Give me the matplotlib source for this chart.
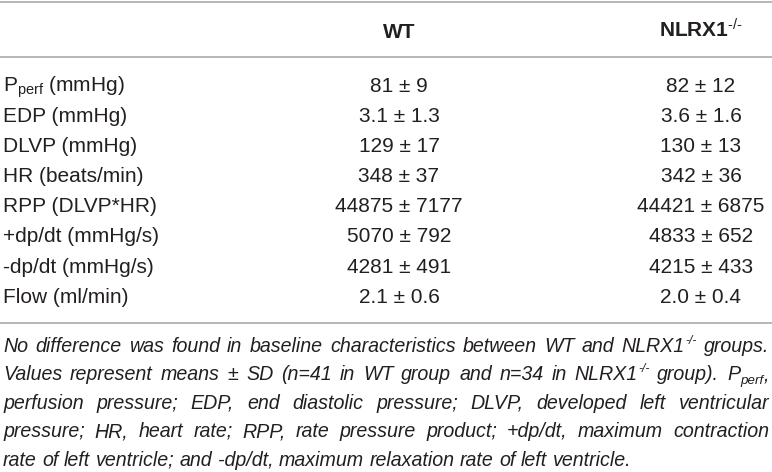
import matplotlib
matplotlib.use("Agg")
import matplotlib.pyplot as plt

plt.rcParams['font.family'] = ['Liberation Sans', 'DejaVu Sans']
plt.rcParams['mathtext.fontset'] = 'custom'
plt.rcParams['mathtext.rm'] = 'Liberation Sans'
plt.rcParams['mathtext.it'] = 'Liberation Sans:italic'
plt.rcParams['mathtext.bf'] = 'Liberation Sans:bold'

# ---- data ----
col_headers = ["WT", r"NLRX1$^{\text{-/-}}$"]
row_labels = [r"P$_{\mathregular{perf}}$ (mmHg)", "EDP (mmHg)", "DLVP (mmHg)",
              "HR (beats/min)", "RPP (DLVP*HR)", "+dp/dt (mmHg/s)",
              "-dp/dt (mmHg/s)", "Flow (ml/min)"]
wt_mean = [81, 3.1, 129, 348, 44875, 5070, 4281, 2.1]
wt_sd = [9, 1.3, 17, 37, 7177, 792, 491, 0.6]
ko_mean = [82, 3.6, 130, 342, 44421, 4833, 4215, 2.0]
ko_sd = [12, 1.6, 13, 36, 6875, 652, 433, 0.4]
decimals = [0, 1, 0, 0, 0, 0, 0, 1]

# caption words: "^" marks a superscript, "_" a subscript part
caption_lines = [
    "No difference was found in baseline characteristics between WT and NLRX1^-/- groups.",
    "Values represent means ± SD (n=41 in WT group and n=34 in NLRX1^-/- group). P_perf_,",
    "perfusion pressure; EDP, end diastolic pressure; DLVP, developed left ventricular",
    "pressure; HR, heart rate; RPP, rate pressure product; +dp/dt, maximum contraction",
    "rate of left ventricle; and -dp/dt, maximum relaxation rate of left ventricle.",
]

# ---- layout ----
W, H = 772, 472
fig = plt.figure(figsize=(W / 100, H / 100), dpi=100)
ax = fig.add_axes([0, 0, 1, 1])
ax.set_xlim(0, W)
ax.set_ylim(H, 0)
ax.axis('off')

txt_color = '#231f20'
line_color = '#a3a3a3'
fs = 15

for yl in (2, 57, 323):
    ax.plot([0, W], [yl, yl], color=line_color, lw=1.1, solid_capstyle='butt')

col_x = [399, 701]
for cx, hdr in zip(col_x, col_headers):
    ax.text(cx, 38, hdr, ha='center', va='baseline', fontsize=fs,
            fontweight='bold', color=txt_color)

def fmt(v, d):
    return f"{v:.{d}f}"

for i, lab in enumerate(row_labels):
    yb = 91.5 + i * 30.2
    ax.text(3, yb, lab, ha='left', va='baseline', fontsize=fs, color=txt_color)
    ax.text(col_x[0], yb, f"{fmt(wt_mean[i], decimals[i])} ± {fmt(wt_sd[i], decimals[i])}",
            ha='center', va='baseline', fontsize=fs, color=txt_color)
    ax.text(col_x[1], yb, f"{fmt(ko_mean[i], decimals[i])} ± {fmt(ko_sd[i], decimals[i])}",
            ha='center', va='baseline', fontsize=fs, color=txt_color)

# ---- justified italic caption ----
renderer = fig.canvas.get_renderer()
x0, x1 = 3, 769
PX = 100 / 72


def parse_word(w):
    segs = []
    if '^' in w:
        a, b = w.split('^', 1)
        segs = [(a, 'n')]
        # superscript runs to end unless trailing punctuation
        segs.append((b, 'sup'))
    elif '_' in w:
        parts = w.split('_')
        segs = [(parts[0], 'n'), (parts[1], 'sub'), (parts[2], 'n')]
    else:
        segs = [(w, 'n')]
    return [s for s in segs if s[0]]


class Word:
    def __init__(self, w, yb, size):
        self.items = []
        for txt, kind in parse_word(w):
            if kind == 'n':
                t = ax.text(0, yb, txt, fontsize=size, style='italic', ha='left',
                            va='baseline', color=txt_color)
            elif kind == 'sup':
                t = ax.text(0, yb - 0.42 * size * PX, txt, fontsize=size * 0.62,
                            style='italic', ha='left', va='baseline', color=txt_color)
            else:
                t = ax.text(0, yb + 0.2 * size * PX, txt, fontsize=size * 0.68,
                            style='italic', ha='left', va='baseline', color=txt_color)
            self.items.append(t)
        self.widths = [t.get_window_extent(renderer).width for t in self.items]
        self.width = sum(self.widths)

    def place(self, x):
        for t, w in zip(self.items, self.widths):
            t.set_x(x)
            x += w

    def remove(self):
        for t in self.items:
            t.remove()


base_fs = 12.0
natural = []
for line in caption_lines:
    ws = [Word(w, 0, base_fs) for w in line.split(' ')]
    natural.append(sum(w.width for w in ws) + 0.278 * base_fs * PX * (len(ws) - 1))
    for w in ws:
        w.remove()
cap_fs = base_fs * 0.975 * (x1 - x0) / max(natural)

for li, line in enumerate(caption_lines):
    yb = 352 + li * 28.4
    words = [Word(w, yb, cap_fs) for w in line.split(' ')]
    total = sum(w.width for w in words)
    if li < len(caption_lines) - 1:
        gap = (x1 - x0 - total) / (len(words) - 1)
    else:
        gap = 0.278 * cap_fs * PX
    x = x0
    for w in words:
        w.place(x)
        x += w.width + gap

fig.savefig("out.png", dpi=100)
